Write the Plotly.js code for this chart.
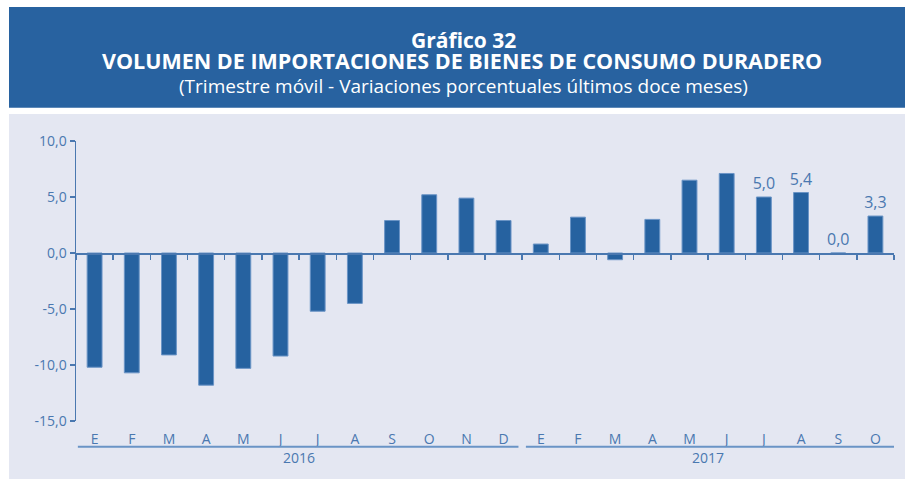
<!DOCTYPE html>
<html>
<head>
<meta charset="utf-8">
<script src="https://cdn.plot.ly/plotly-3.0.1.min.js"></script>
<style>
html,body{margin:0;padding:0;background:#fff;}
#chart{width:905px;height:479px;}
</style>
</head>
<body>
<div id="chart"></div>
<script>
const categories = ["E16","F16","M16","A16","M16b","J16","J16b","A16b","S16","O16","N16","D16",
                    "E17","F17","M17","A17","M17b","J17","J17b","A17b","S17","O17"];
const monthLabels = ["E","F","M","A","M","J","J","A","S","O","N","D",
                     "E","F","M","A","M","J","J","A","S","O"];
const values = [-10.2,-10.7,-9.1,-11.8,-10.3,-9.2,-5.2,-4.5,2.9,5.2,4.9,2.9,
                0.8,3.2,-0.6,3.0,6.5,7.1,5.0,5.4,0.0,3.3];
const barLabels = [null,null,null,null,null,null,null,null,null,null,null,null,
                   null,null,null,null,null,null,"5,0","5,4","0,0","3,3"];
const yTickVals = [-15,-10,-5,0,5,10];
const yTickText = ["-15,0","-10,0","-5,0","0,0","5,0","10,0"];
const years = ["2016","2017"];
const yearCenters = [5.5, 16.5];
const yearSpans = [[-0.45,11.4],[11.6,21.5]];

const txtColor = "#4a78b0";
const font = "Open Sans, Noto Sans, sans-serif";

const L=76, R=894, T=141, B=421;
const px2x = p => (p-L)/(R-L);
const py2y = p => (B-p)/(B-T);

const shapes = [
  {type:"rect", xref:"paper", yref:"paper", x0:px2x(9), x1:px2x(905), y0:py2y(107.7), y1:py2y(7),
   fillcolor:"#2862a0", line:{width:0}, layer:"below"},
  {type:"rect", xref:"paper", yref:"paper", x0:px2x(9), x1:px2x(905), y0:py2y(479), y1:py2y(114),
   fillcolor:"#e4e7f2", line:{width:0}, layer:"below"}
];
yearSpans.forEach(s=>shapes.push({type:"line", xref:"x", yref:"paper", x0:s[0], x1:s[1],
  y0:py2y(446.7), y1:py2y(446.7), line:{color:"#6a94c6", width:2}}));

const annotations = [
  {text:"<b>Gráfico 32</b>", xref:"paper", yref:"paper", x:px2x(463), y:py2y(40), showarrow:false,
   font:{family:font, size:21, color:"#fff"}, xanchor:"center", yanchor:"middle", borderpad:0},
  {text:"<b>VOLUMEN DE IMPORTACIONES DE BIENES DE CONSUMO DURADERO</b>", xref:"paper", yref:"paper",
   x:px2x(462), y:py2y(61), showarrow:false, font:{family:font, size:21.5, color:"#fff"}, xanchor:"center", yanchor:"middle", borderpad:0},
  {text:"(Trimestre móvil - Variaciones porcentuales últimos doce meses)", xref:"paper", yref:"paper",
   x:px2x(463), y:py2y(86), showarrow:false, font:{family:font, size:19, color:"#fff"}, xanchor:"center", yanchor:"middle", borderpad:0}
];
years.forEach((y,i)=>annotations.push({text:y, xref:"x", yref:"paper", x:yearCenters[i], y:py2y(457),
  showarrow:false, font:{family:font, size:14, color:txtColor}, xanchor:"center", yanchor:"middle"}));

const data = [
  {type:"bar", x:categories, y:values, width:0.4,
   marker:{color:"#2662a0", line:{color:"#6a94c6", width:1}},
   text:barLabels, textposition:"outside", cliponaxis:false, constraintext:"none",
   textfont:{family:font, size:16, color:txtColor}, hoverinfo:"skip"},
  {type:"scatter", x:[-0.5,21.5], y:[0,0], xaxis:"x2", mode:"lines", line:{width:0}, hoverinfo:"skip", showlegend:false}
];

const layout = {
  width:905, height:479,
  margin:{l:L, r:905-R, t:T, b:479-B},
  paper_bgcolor:"#ffffff", plot_bgcolor:"#e4e7f2",
  showlegend:false,
  font:{family:font, color:txtColor},
  bargap:0.6,
  xaxis:{type:"category", tickvals:categories, ticktext:monthLabels, ticks:"", showline:false,
         showgrid:false, zeroline:false, ticklabelstandoff:8, tickfont:{family:font, size:14, color:txtColor},
         range:[-0.5,21.5]},
  xaxis2:{overlaying:"x", anchor:"free", position:0.6, side:"bottom", range:[-0.5,21.5],
          tick0:-0.5, dtick:1, ticks:"outside", ticklen:5, tickcolor:txtColor, tickwidth:1.5,
          showticklabels:false, showline:true, linecolor:txtColor, linewidth:1.5,
          showgrid:false, zeroline:false},
  yaxis:{range:[-15,10], tickvals:yTickVals, ticktext:yTickText, ticks:"outside", ticklen:5,
         tickcolor:txtColor, tickwidth:1.5, showline:true, linecolor:txtColor, linewidth:1.5,
         showgrid:false, zeroline:false, tickfont:{family:font, size:14, color:txtColor}},
  shapes:shapes, annotations:annotations
};

Plotly.newPlot("chart", data, layout, {displayModeBar:false, staticPlot:true});
</script>
</body>
</html>
